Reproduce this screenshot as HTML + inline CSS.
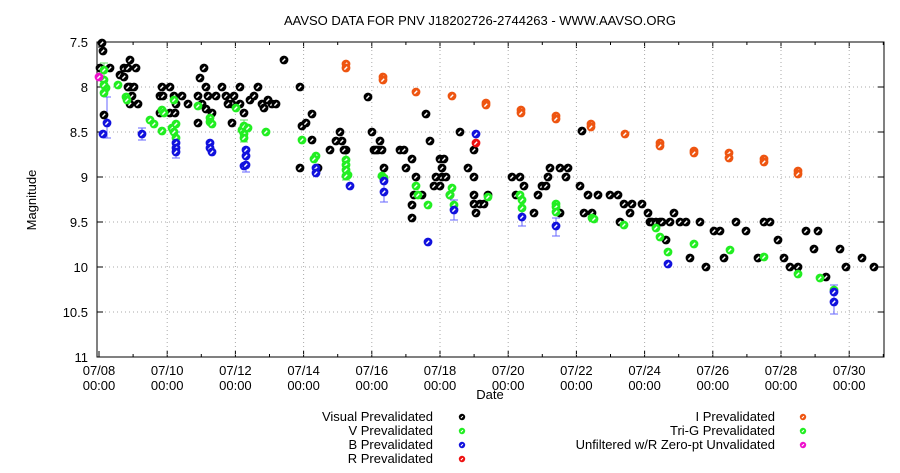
<!DOCTYPE html>
<html><head><meta charset="utf-8"><style>
body{margin:0;background:#fff;}
svg{display:block;font-family:"Liberation Sans",sans-serif;}
</style></head><body>
<svg id="s" width="900" height="473" viewBox="0 0 900 473" xmlns="http://www.w3.org/2000/svg">
<defs>
<g id="mk"><circle r="4.4" fill="currentColor"/><line x1="-1.6" y1="1.6" x2="1.2" y2="-1.2" stroke="#fff" stroke-width="1.4"/></g>
<g id="mks"><circle r="3.2" fill="currentColor"/><line x1="-1.1" y1="1.1" x2="0.9" y2="-0.9" stroke="#fff" stroke-width="1.1"/></g>
</defs>
<rect width="900" height="473" fill="#fff"/>
<text x="480" y="25" font-size="13" text-anchor="middle">AAVSO DATA FOR PNV J18202726-2744263 - WWW.AAVSO.ORG</text>
<text x="36" y="200" font-size="13" text-anchor="middle" transform="rotate(-90 36 200)">Magnitude</text>
<text x="490" y="399" font-size="13" text-anchor="middle">Date</text>
<g id="grid"></g>
<rect x="97" y="42" width="787" height="315" fill="none" stroke="#000" stroke-width="1"/>
<g id="pts"></g>
<g font-size="13" text-anchor="end">
<text x="433" y="421">Visual Prevalidated</text>
<text x="433" y="435">V Prevalidated</text>
<text x="433" y="449">B Prevalidated</text>
<text x="433" y="463">R Prevalidated</text>
<text x="775" y="421">I Prevalidated</text>
<text x="775" y="435">Tri-G Prevalidated</text>
<text x="775" y="449">Unfiltered w/R Zero-pt Unvalidated</text>
</g>
<g id="leg"></g>
</svg>
<script>
var NS="http://www.w3.org/2000/svg";
function el(p,t,a){var e=document.createElementNS(NS,t);for(var k in a)e.setAttribute(k,a[k]);p.appendChild(e);return e;}
var g=document.getElementById("grid");
var yl=["7.5","8","8.5","9","9.5","10","10.5","11"];
for(var i=0;i<8;i++){var y=42+i*45;
 if(i>0&&i<7)el(g,"line",{x1:97,x2:884,y1:y,y2:y,stroke:"#aaa","stroke-dasharray":"1,3"});
 el(g,"line",{x1:97,x2:103,y1:y,y2:y,stroke:"#000"});el(g,"line",{x1:878,x2:884,y1:y,y2:y,stroke:"#000"});
 var t=el(g,"text",{x:88,y:y+5,"font-size":13,"text-anchor":"end"});t.textContent=yl[i];}
for(var d=8;d<=31;d++){var x=99+(d-8)*34.1;var maj=(d%2==0);
 el(g,"line",{x1:x,x2:x,y1:357,y2:maj?351:354,stroke:"#000"});el(g,"line",{x1:x,x2:x,y1:42,y2:maj?48:45,stroke:"#000"});
 if(maj){ if(d>8)el(g,"line",{x1:x,x2:x,y1:42,y2:357,stroke:"#aaa","stroke-dasharray":"1,3"});
  var t=el(g,"text",{x:x,y:375,"font-size":13,"text-anchor":"middle"});t.textContent="07/"+(d<10?"0":"")+d;
  t=el(g,"text",{x:x,y:390,"font-size":13,"text-anchor":"middle"});t.textContent="00:00";}}
var P=document.getElementById("pts");
function pts(c,arr){for(var i=0;i<arr.length;i+=2){var u=el(P,"use",{href:"#mk",x:arr[i],y:arr[i+1]});u.setAttribute("color",c);}}
function eb(c,x,y1,y2){el(P,"line",{x1:x,x2:x,y1:y1,y2:y2,stroke:c});el(P,"line",{x1:x-4,x2:x+4,y1:y1,y2:y1,stroke:c});el(P,"line",{x1:x-4,x2:x+4,y1:y2,y2:y2,stroke:c});}
eb("#6666ff",107,97,138);eb("#6666ff",246,148,172);eb("#6666ff",384,176,202);eb("#6666ff",454,200,220);eb("#6666ff",522,210,226);eb("#6666ff",556,218,236);eb("#6666ff",834,285,314);eb("#6666ff",176,132,158);eb("#6666ff",142,128,140);
eb("#66dd66",104,63,95);eb("#66dd66",244,120,142);eb("#66dd66",346,152,180);
pts("#000",[102,43,103,51,100,68,110,68,104,115,120,75,124,68,130,60,128,68,136,68,124,77,130,87,134,87,132,96,130,104,138,104,128,87,160,96,162,87,163,96,160,113,170,87,174,96,182,96,200,78,204,68,198,96,206,87,208,96,216,96,222,87,226,96,232,104,228,104,232,123,170,113,176,104,175,113,188,104,198,123,202,104,206,109,212,113,234,96,240,87,240,104,244,113,250,100,254,96,258,87,262,104,264,108,268,100,272,104,276,104,284,60,300,87,302,126,306,123,312,114,312,140,300,168,318,168,330,150,336,141,340,132,342,141,346,150,344,150,368,97,372,132,374,150,380,141,378,150,382,150,376,150,400,150,404,150,384,168,406,168,412,159,416,177,414,195,412,205,412,218,422,195,426,114,430,141,434,186,436,177,440,159,444,159,442,168,440,186,442,177,446,177,450,195,460,132,468,168,474,150,474,177,474,195,474,204,476,213,480,204,484,204,488,195,512,177,516,195,520,177,524,186,534,213,538,195,542,186,546,186,548,177,550,168,560,168,566,177,568,168,560,213,580,186,582,131,588,195,584,213,592,213,598,195,610,195,618,195,620,222,624,204,630,213,632,204,642,204,648,213,650,222,652,222,656,222,660,222,662,222,666,240,670,222,674,213,680,222,686,222,690,258,700,222,706,267,714,231,720,231,724,258,736,222,746,231,758,258,764,222,770,222,778,240,784,258,790,267,798,267,806,231,814,249,826,277,840,249,846,267,862,258,874,267,818,231]);
pts("#ee5511",[346,64,346,68,383,77,383,80,416,92,452,96,486,103,486,105,521,110,521,113,556,116,556,119,591,124,591,127,625,134,660,143,660,146,694,151,694,153,729,153,729,158,764,159,764,162,798,171,798,174]);
pts("#22ee22",[104,70,104,80,106,88,104,93,104,85,118,85,126,97,127,100,150,120,154,124,162,110,164,113,174,100,162,131,172,128,174,132,176,124,176,138,198,106,210,118,210,122,212,124,236,108,242,130,244,126,244,134,244,138,248,128,266,132,302,140,316,156,314,159,346,160,346,165,346,170,348,175,346,176,382,176,384,178,416,186,418,195,428,205,450,195,452,188,454,205,488,197,520,195,522,200,522,208,556,204,556,207,556,212,592,218,594,219,624,225,656,228,660,237,668,252,694,244,730,250,764,257,798,274,820,278,834,290]);
pts("#1111dd",[103,134,107,123,142,134,176,143,176,148,176,152,210,143,210,148,212,152,246,150,246,156,244,166,246,165,316,168,316,173,350,186,384,181,384,192,428,242,454,210,476,134,522,217,556,226,668,264,834,302,834,292]);
pts("#ee1111",[476,143]);
pts("#ee11cc",[99,77]);
var L=[["#000",462,417],["#22ee22",462,431],["#1111dd",462,445],["#ee1111",462,459],["#ee5511",803,417],["#22ee22",803,431],["#ee11cc",803,445]];
L.forEach(function(a){var u=el(document.getElementById("leg"),"use",{href:"#mks",x:a[1],y:a[2]});u.setAttribute("color",a[0]);});
</script>
</body></html>
